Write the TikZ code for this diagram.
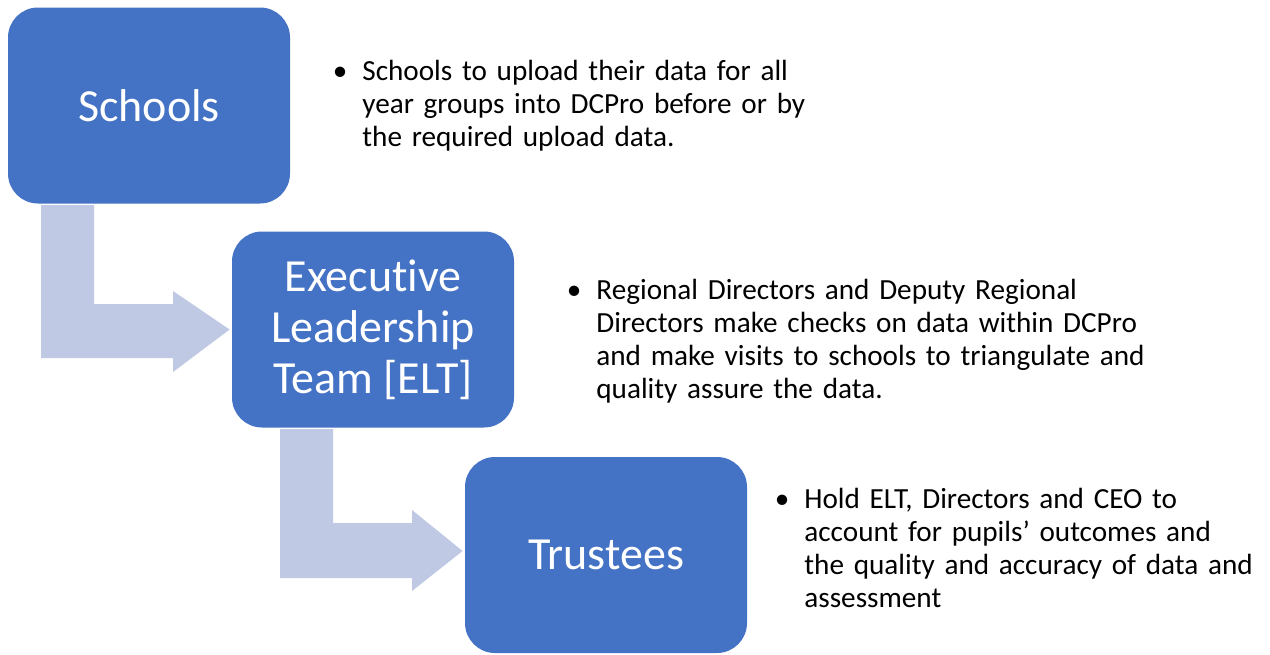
\documentclass[tikz,border=0pt]{standalone}
\usepackage{fontspec}
\setmainfont{Carlito}[Ligatures=NoCommon]
\definecolor{boxblue}{HTML}{4472C4}
\definecolor{arrowgrey}{HTML}{BFC9E3}
\begin{document}
\begin{tikzpicture}[x=0.5pt,y=-0.5pt,
  box/.style={fill=boxblue, rounded corners=15pt, minimum width=141pt, minimum height=98pt,
    inner sep=0pt, text=white, font=\fontsize{23}{25.5}\selectfont, align=center},
  bullettext/.style={anchor=base west, inner sep=0pt, text width=330pt, align=left,
    font=\fontsize{14.6}{16.5}\selectfont, text=black},
  bent/.style={fill=arrowgrey}]
\useasboundingbox (0,0) rectangle (1270,654);
% boxes
\node[box] (s) at (149,105.5) {Schools};
\node[box] (e) at (373,329.5) {Executive\\Leadership\\Team [ELT]};
\node[box] (t) at (606,555) {Trustees};
% bent arrows
\fill[bent] (41,205) -- (94,205) -- (94,304) -- (173,304) -- (173,291)
  -- ([xshift=-1pt]e.west) -- (173,372) -- (173,358) -- (41,358) -- cycle;
\fill[bent] (280,429) -- (333,429) -- (333,523) -- (412,523) -- (412,510)
  -- ([xshift=-1pt,yshift=2pt]t.west) -- (412,591) -- (412,578) -- (280,578) -- cycle;
% texts
\node[bullettext] (ts) at (362,80) {\llap{•\hspace{7.5pt}}Schools to upload their data for all\\year groups into DCPro before or by\\the required upload data.};
\node[bullettext] (te) at (596,299) {\llap{•\hspace{7.5pt}}Regional Directors and Deputy Regional\\Directors make checks on data within DCPro\\and make visits to schools to triangulate and\\quality assure the data.};
\node[bullettext] (tt) at (804,508) {\llap{•\hspace{7.5pt}}Hold ELT, Directors and CEO to\\account for pupils’ outcomes and\\the quality and accuracy of data and\\assessment};
\end{tikzpicture}
\end{document}
